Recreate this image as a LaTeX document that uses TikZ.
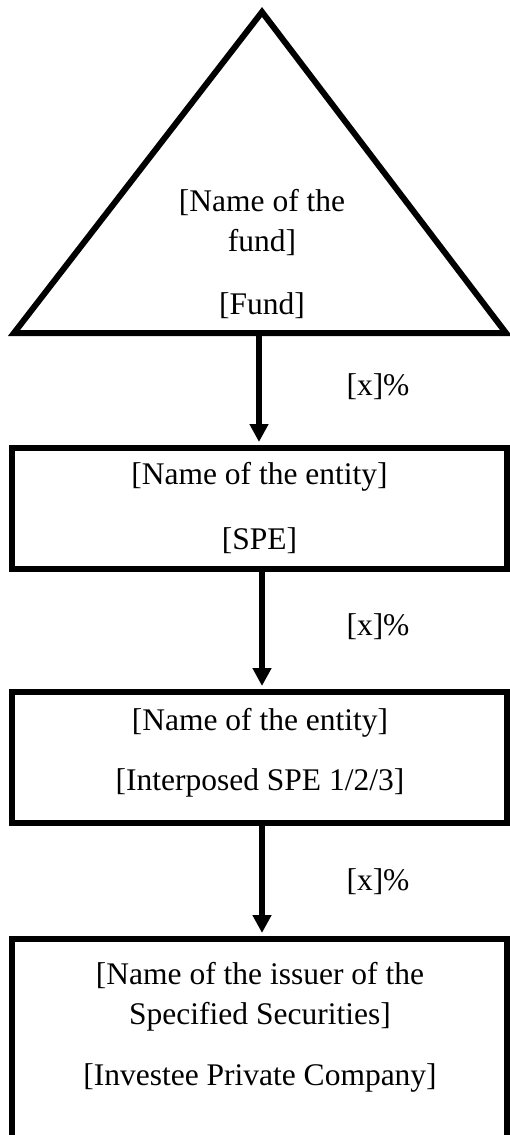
\documentclass[tikz,border=0pt]{standalone}
\usepackage{fontspec}
\setmainfont{Liberation Serif}
\usetikzlibrary{arrows.meta,calc}
\begin{document}
\begin{tikzpicture}[x=1pt,y=-1pt,
  every node/.style={font=\fontsize{31.5}{40}\selectfont, align=center, inner sep=0pt},
  box/.style={draw, line width=6pt, rectangle, minimum width=495pt},
  conn/.style={line width=6pt, -{Triangle[width=18pt,length=18pt]}, shorten >=3pt}]
\useasboundingbox (0,0) rectangle (510,1135);
\clip (0,0) rectangle (510,1135);
% triangle (fund)
\coordinate (apex) at (262,12);
\coordinate (tl) at (14,333);
\coordinate (tr) at (506,333);
\draw[line width=6pt, line join=miter] (apex) -- (tr) -- (tl) -- cycle;
\node (fund) at (262,254) {[Name of the\\fund]\\[23pt][Fund]};
% boxes
\node[box, minimum height=121pt] (spe) at (259.5,508.5) {[Name of the entity]\\[25pt][SPE]};
\node[box, minimum height=131pt] (ipspe) at (259.5,757.5) {};
\node (ipspetext) at (260,753) {[Name of the entity]\\[20pt][Interposed SPE 1/2/3]};
\node[box, minimum height=230pt] (issuer) at (259.5,1054) {};
\node (issuertext) at (260,1027) {[Name of the issuer of the\\Specified Securities]\\[21pt][Investee Private Company]};
% connectors
\coordinate (fundbase) at (259,334);
\coordinate (ax) at (262,0);
\draw[conn] (fundbase) -- (spe.north -| fundbase);
\draw[conn] (spe.south -| ax) -- (ipspe.north -| ax);
\draw[conn] (ipspe.south -| ax) -- (issuer.north -| ax);
% labels
\node (p1) at (378,387) {[x]\%};
\node (p2) at (378,627) {[x]\%};
\node (p3) at (378,882) {[x]\%};
\end{tikzpicture}
\end{document}
